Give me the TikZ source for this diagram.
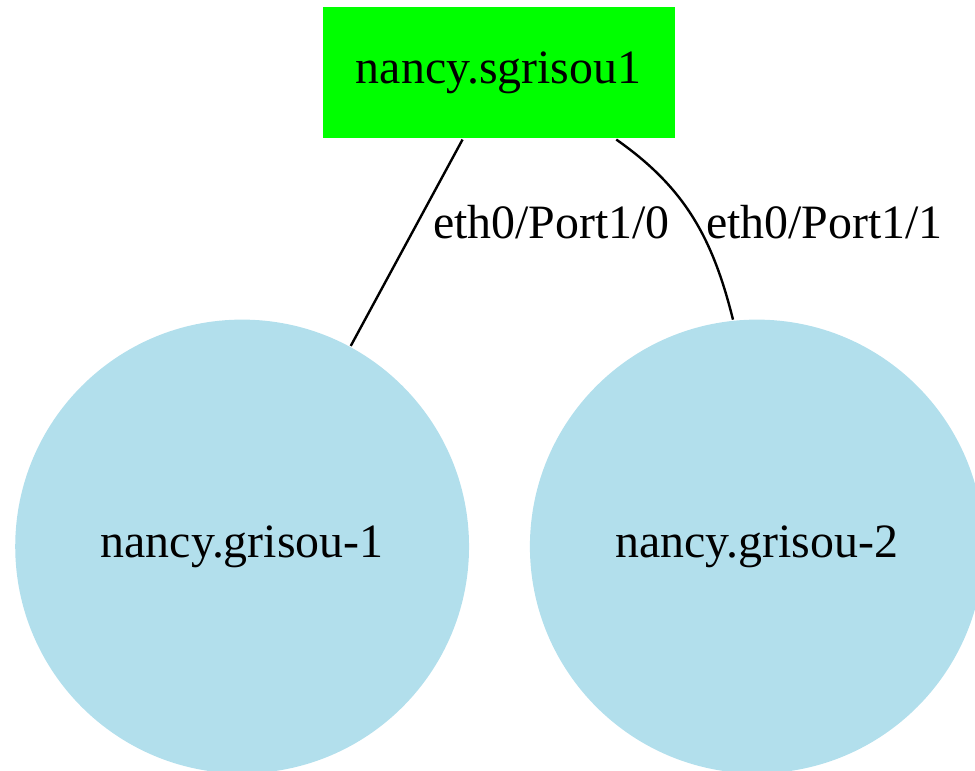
\documentclass[tikz,border=0pt]{standalone}
\usepackage{fontspec}
\setmainfont{Liberation Serif}
\usetikzlibrary{positioning}
\definecolor{switchgreen}{RGB}{0,255,0}
\definecolor{hostblue}{RGB}{178,223,236}

\begin{document}
\begin{tikzpicture}[font=\fontsize{14}{16}\selectfont, line width=0.7pt]
    \useasboundingbox (0,0) rectangle (285.1pt,-225.4pt);
    \node[fill=switchgreen, minimum width=102.9pt, minimum height=38.3pt] (sgrisou) at (145.8pt,-21.3pt) {nancy.sgrisou1};
    \node[circle, fill=hostblue, minimum size=132.7pt, below=52.3pt of sgrisou.south, xshift=-75pt] (grisou1) {nancy.grisou-1};
    \node[circle, fill=hostblue, minimum size=132.7pt, below=52.3pt of sgrisou.south, xshift=75.5pt] (grisou2) {nancy.grisou-2};
    \node[anchor=base west, inner sep=0pt] (port10) at (126.3pt,-69.6pt) {eth0/Port1/0};
    \node[anchor=base west, inner sep=0pt] (port11) at (206.1pt,-69.6pt) {eth0/Port1/1};

    \draw (sgrisou) -- (grisou1);
    \draw ([xshift=34.4pt]sgrisou.south) to[out=-35, in=104] (grisou2.96);

\end{tikzpicture}
\end{document}
